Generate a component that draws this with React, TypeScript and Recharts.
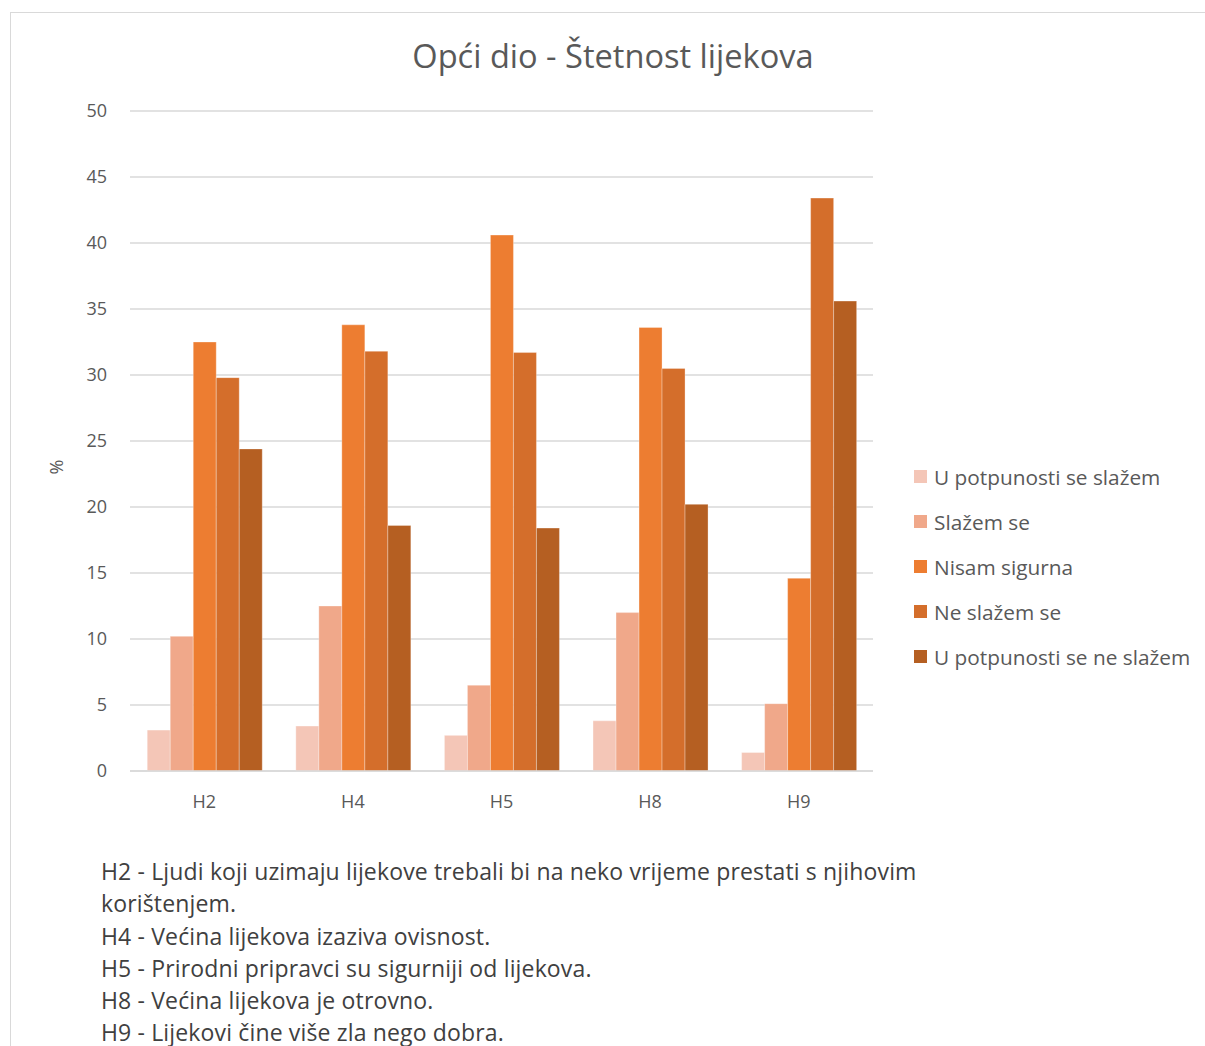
import React from 'react';
import { BarChart, Bar, XAxis, YAxis, CartesianGrid } from 'recharts';

const categories = ['H2', 'H4', 'H5', 'H8', 'H9'];
const seriesNames = [
  'U potpunosti se slažem',
  'Slažem se',
  'Nisam sigurna',
  'Ne slažem se',
  'U potpunosti se ne slažem',
];
const seriesColors = ['#F4C6B7', '#F0A88A', '#ED7D31', '#D46E2B', '#B55F22'];
const uPotpunostiSeSlazem = [3.1, 3.4, 2.7, 3.8, 1.4];
const slazemSe = [10.2, 12.5, 6.5, 12.0, 5.1];
const nisamSigurna = [32.5, 33.8, 40.6, 33.6, 14.6];
const neSlazemSe = [29.8, 31.8, 31.7, 30.5, 43.4];
const uPotpunostiSeNeSlazem = [24.4, 18.6, 18.4, 20.2, 35.6];
const yTicks = [0, 5, 10, 15, 20, 25, 30, 35, 40, 45, 50];
const title = 'Opći dio - Štetnost lijekova';
const yLabel = '%';
const notes = [
  'H2 - Ljudi koji uzimaju lijekove trebali bi na neko vrijeme prestati s njihovim',
  'korištenjem.',
  'H4 - Većina lijekova izaziva ovisnost.',
  'H5 - Prirodni pripravci su sigurniji od lijekova.',
  'H8 - Većina lijekova je otrovno.',
  'H9 - Lijekovi čine više zla nego dobra.',
];

const seriesValues = [uPotpunostiSeSlazem, slazemSe, nisamSigurna, neSlazemSe, uPotpunostiSeNeSlazem];
const keys = ['s0', 's1', 's2', 's3', 's4'];
const data = categories.map((c, i) => {
  const row: any = { name: c };
  keys.forEach((k, j) => (row[k] = seriesValues[j][i]));
  return row;
});

const FONT = '"Open Sans", Lato, sans-serif';

export default function App() {
  return (
    <div style={{ position: 'absolute', left: 0, top: 0, width: 1205, height: 1046, background: '#fff', fontFamily: FONT, overflow: 'hidden' }}>
      <div style={{ position: 'absolute', left: 10, top: 12, width: 1300, height: 1100, border: '1px solid #d9d9d9', boxSizing: 'border-box' }} />
      <div style={{ position: 'absolute', left: 0, width: 1226, top: 36, textAlign: 'center', fontSize: 32.6, color: '#595959', lineHeight: '40px' }}>{title}</div>
      <div style={{ position: 'absolute', left: 0, top: 0 }}>
        <BarChart width={1205} height={1046} data={data} margin={{ top: 111, right: 332, left: 70, bottom: 245 }} barCategoryGap="11.6%" barGap={0}>
          <CartesianGrid vertical={false} stroke="#d9d9d9" strokeWidth={1.3} />
          <XAxis dataKey="name" height={30} tickLine={false} axisLine={{ stroke: '#d9d9d9', strokeWidth: 1.3 }} tickSize={0} tickMargin={24} tick={{ fill: '#595959', fontSize: 18, fontFamily: FONT }} />
          <YAxis width={60} domain={[0, 50]} ticks={yTicks} axisLine={false} tickLine={false} tickSize={0} tickMargin={23} tick={{ fill: '#595959', fontSize: 18, fontFamily: FONT }} interval={0} />
          {keys.map((k, j) => (
            <Bar key={k} dataKey={k} name={seriesNames[j]} fill={seriesColors[j]} stroke="#ffffff" strokeOpacity={0.5} strokeWidth={0.6} isAnimationActive={false} />
          ))}
        </BarChart>
      </div>
      <div style={{ position: 'absolute', left: 56, top: 467, transform: 'translate(-50%, -50%) rotate(-90deg)', fontSize: 18, color: '#595959' }}>{yLabel}</div>
      <div style={{ position: 'absolute', left: 914, top: 464 }}>
        {seriesNames.map((n, j) => (
          <div key={n} style={{ display: 'flex', alignItems: 'center', height: 45, fontSize: 20.8, color: '#595959', lineHeight: '24px', marginTop: j === 0 ? -10 : 0 }}>
            <span style={{ display: 'inline-block', width: 13, height: 13, background: seriesColors[j], marginRight: 7 }} />
            <span>{n}</span>
          </div>
        ))}
      </div>
      <div style={{ position: 'absolute', left: 101, top: 855 }}>
        {notes.map((t, i) => (
          <div key={i} style={{ fontSize: 23, letterSpacing: 0.15, color: '#404040', lineHeight: '32.3px', whiteSpace: 'nowrap' }}>{t}</div>
        ))}
      </div>
    </div>
  );
}
